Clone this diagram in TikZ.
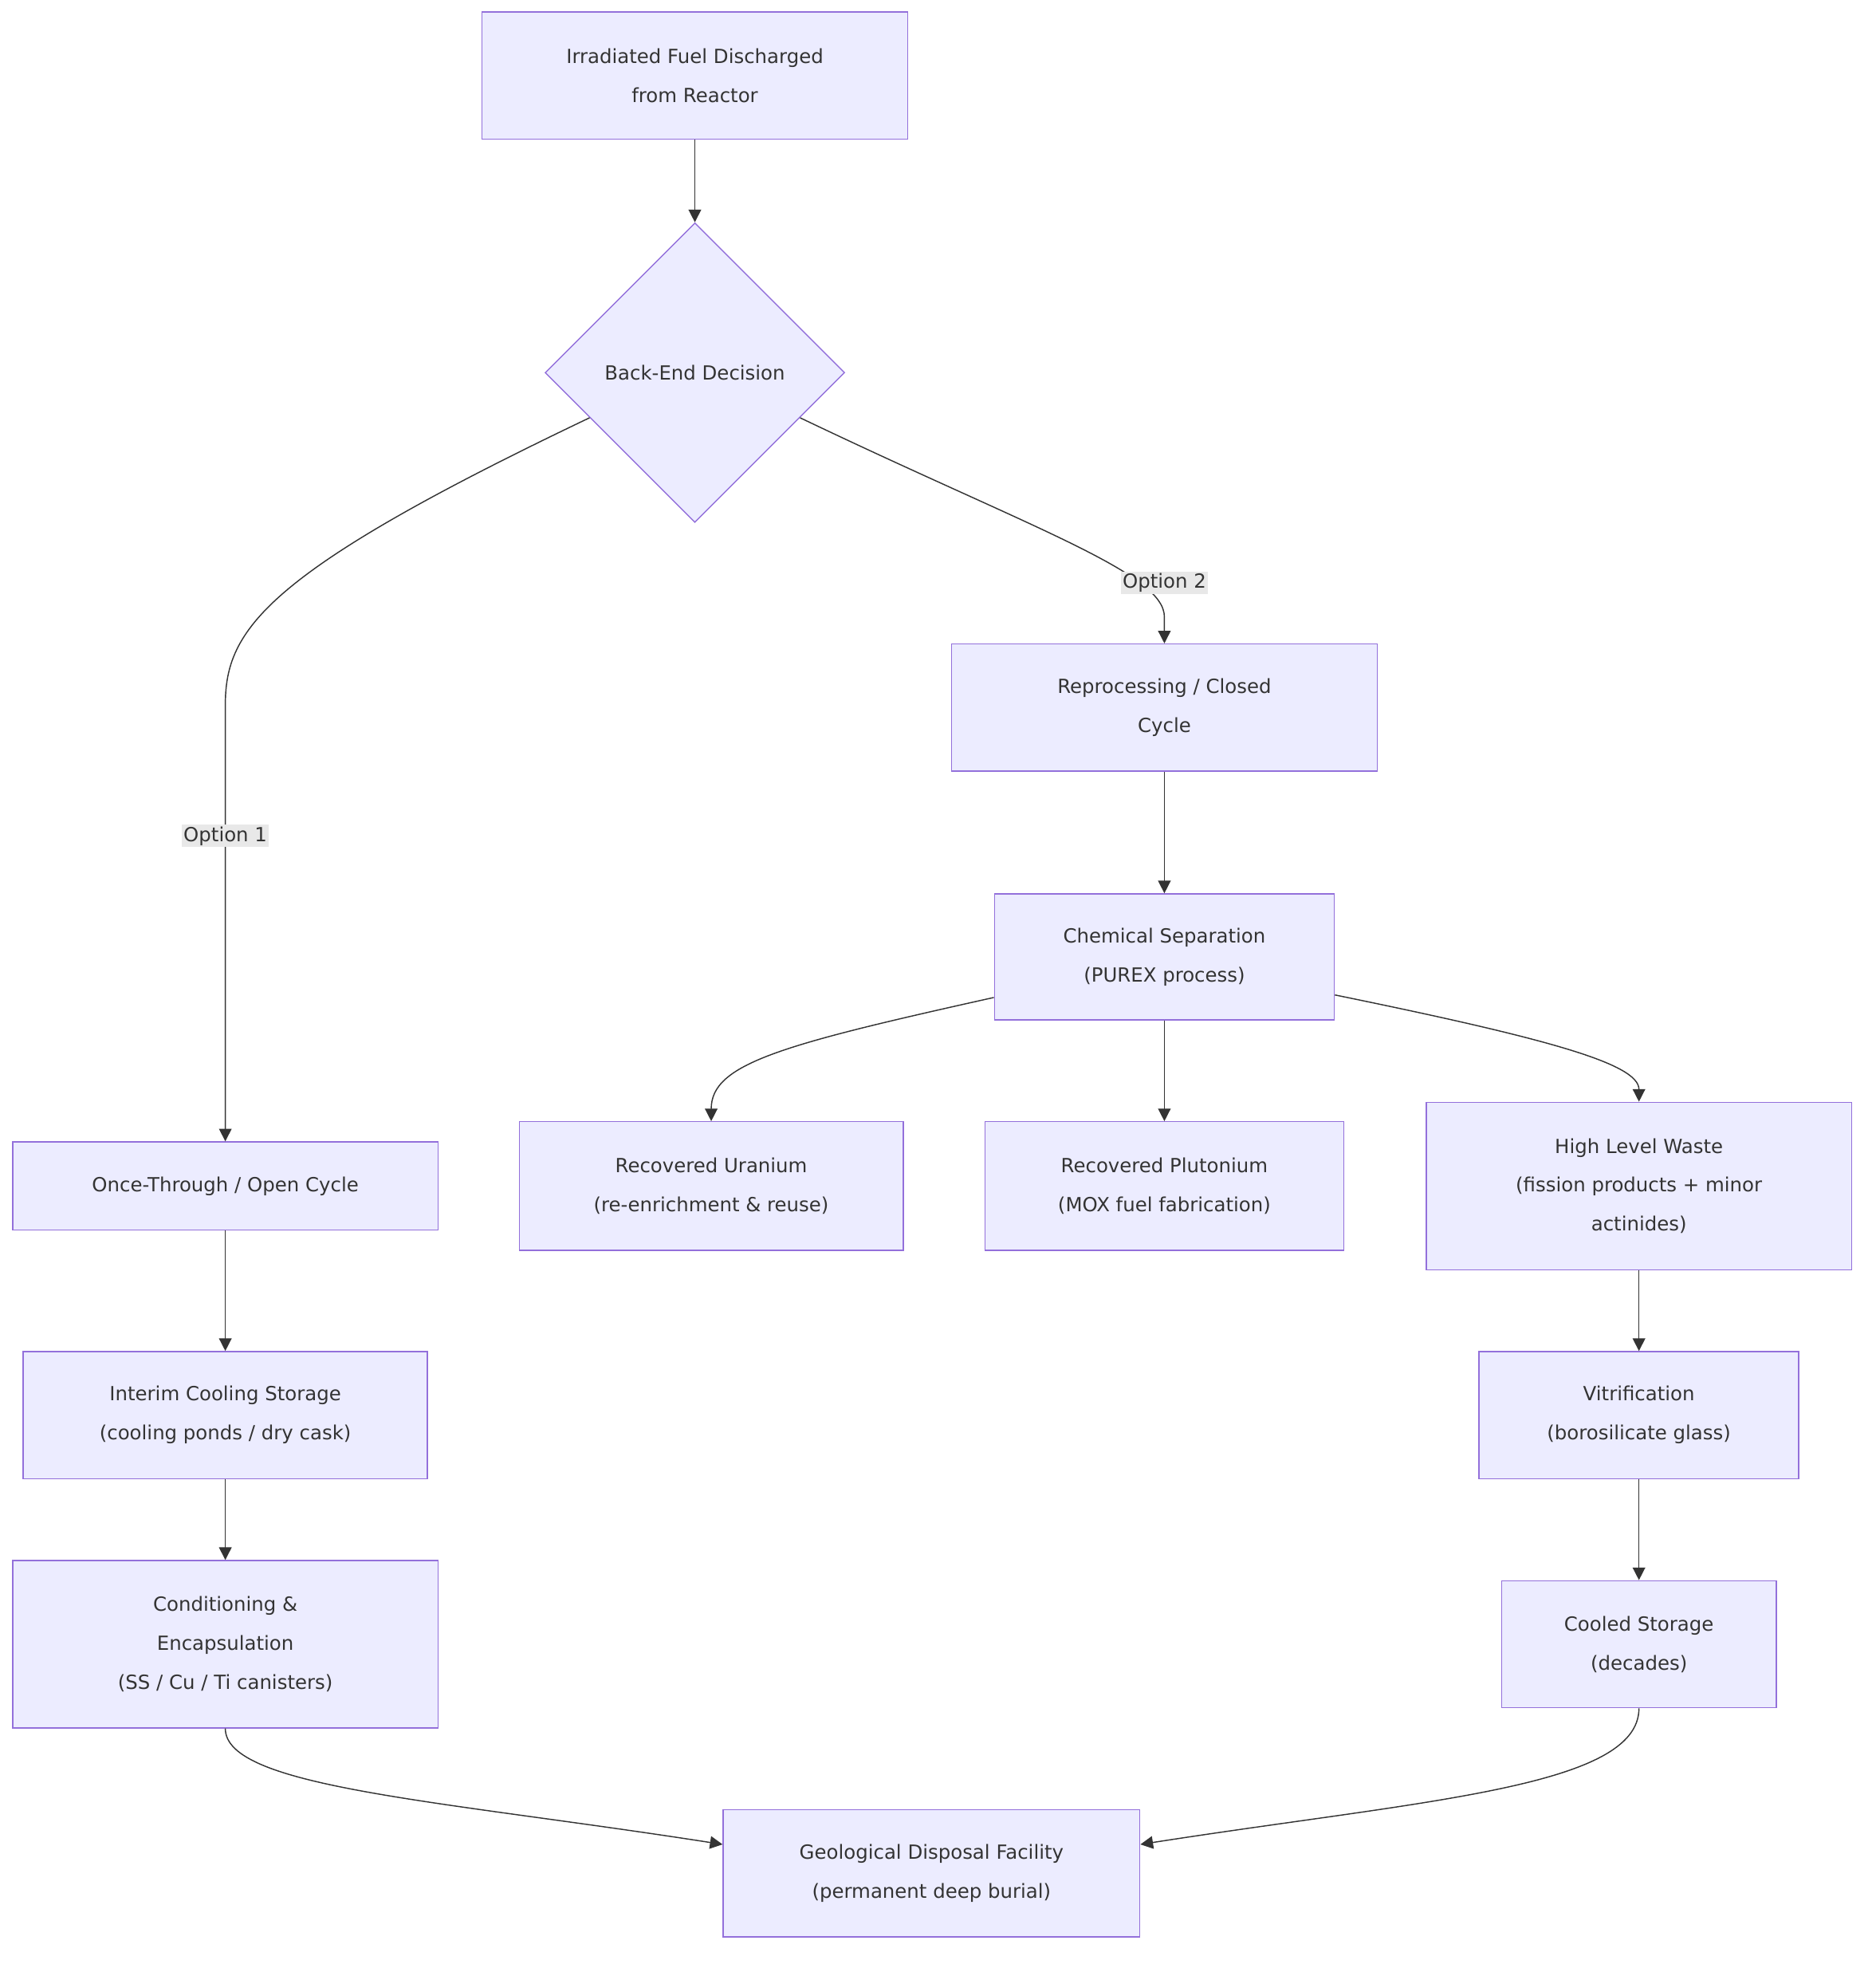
\documentclass[tikz,border=0pt]{standalone}
\usepackage{fontspec}
\setmainfont{DejaVu Sans}
\usetikzlibrary{shapes.geometric,arrows.meta,calc}
\definecolor{nodefill}{HTML}{ECECFF}
\definecolor{nodeline}{HTML}{9370DB}
\definecolor{edge}{HTML}{333333}
\definecolor{lbl}{HTML}{E8E8E8}
\definecolor{txt}{HTML}{333333}
\begin{document}
\begin{tikzpicture}[x=0.5mm,y=-0.5mm,
  box/.style={draw=nodeline,fill=nodefill,line width=1.3pt,align=center,text=txt,
    font=\fontsize{22}{44}\selectfont,inner sep=0pt},
  dia/.style={box,diamond,minimum width=119mm,minimum height=119mm},
  arr/.style={draw=edge,line width=1.3pt,-{Triangle[length=5mm,width=5mm]}},
  lab/.style={fill=lbl,text=txt,font=\fontsize{22}{26}\selectfont,inner sep=2pt}]
\useasboundingbox (0,0) rectangle (1490,1560);
\node[box,minimum width=169mm,minimum height=50.5mm] (A) at (552,60) {Irradiated Fuel Discharged\\from Reactor};
\node[dia] (B) at (552,296) {Back-End Decision};
\node[box,minimum width=169mm,minimum height=50.5mm] (C) at (925,562) {Reprocessing / Closed\\Cycle};
\node[box,minimum width=135mm,minimum height=50mm] (D) at (925,760) {Chemical Separation\\(PUREX process)};
\node[box,minimum width=169mm,minimum height=35mm] (E) at (179,942) {Once-Through / Open Cycle};
\node[box,minimum width=152.5mm,minimum height=51mm] (F) at (565,942) {Recovered Uranium\\(re-enrichment \& reuse)};
\node[box,minimum width=142.5mm,minimum height=51mm] (G) at (925,942) {Recovered Plutonium\\(MOX fuel fabrication)};
\node[box,minimum width=169mm,minimum height=66.5mm] (H) at (1302,942) {High Level Waste\\(fission products + minor\\actinides)};
\node[box,minimum width=160.5mm,minimum height=50.5mm] (I) at (179,1124) {Interim Cooling Storage\\(cooling ponds / dry cask)};
\node[box,minimum width=127mm,minimum height=50.5mm] (J) at (1302,1124) {Vitrification\\(borosilicate glass)};
\node[box,minimum width=169mm,minimum height=66.5mm] (K) at (179,1306) {Conditioning \&\\Encapsulation\\(SS / Cu / Ti canisters)};
\node[box,minimum width=109mm,minimum height=50.5mm] (L) at (1302,1306) {Cooled Storage\\(decades)};
\node[box,minimum width=165.5mm,minimum height=50.5mm] (M) at (740,1488) {Geological Disposal Facility\\(permanent deep burial)};

\draw[arr] (A) -- (B);
\draw[arr] ($(B.west)!0.3!(B.south)$) .. controls (210,455) and (179,500) .. (179,560) -- node[lab,pos=0.3]{Option 1} (E.north);
\draw[arr] ($(B.east)!0.3!(B.south)$) .. controls (820,420) and (925,455) .. (925,490) -- (C.north);
\node[lab] (o2) at (925,463) {Option 2};
\draw[arr] (C) -- (D);
\draw[arr] ($(D.south west)!0.36!(D.west)$) .. controls (620,830) and (565,845) .. (F.north);
\draw[arr] (D) -- (G);
\draw[arr] ($(D.south east)!0.4!(D.east)$) .. controls (1230,825) and (1302,845) .. (H.north);
\draw[arr] (E) -- (I);
\draw[arr] (I) -- (K);
\draw[arr] (H) -- (J);
\draw[arr] (J) -- (L);
\draw[arr] (K.south) .. controls (179,1420) and (350,1430) .. ($(M.west)+(0,-23)$);
\draw[arr] (L.south) .. controls (1302,1420) and (1130,1430) .. ($(M.east)+(0,-23)$);
\end{tikzpicture}
\end{document}
